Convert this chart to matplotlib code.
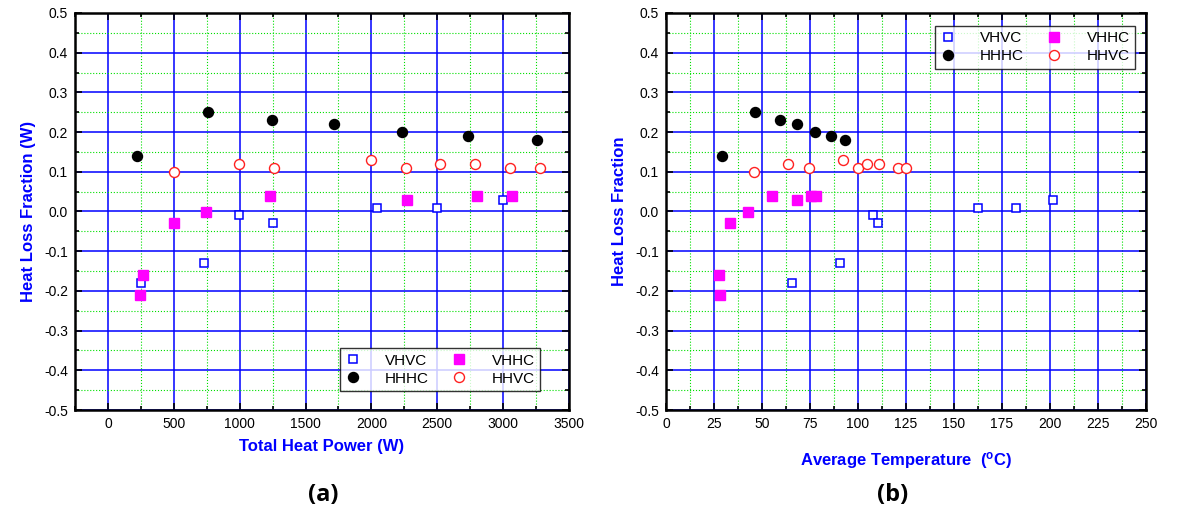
import numpy as np
import matplotlib
matplotlib.use('Agg')
import matplotlib.pyplot as plt
from matplotlib.ticker import MultipleLocator, FormatStrFormatter

plt.rcParams['font.family'] = ['Liberation Sans', 'DejaVu Sans']
plt.rcParams['axes.unicode_minus'] = False

# (a) heat loss fraction vs total heat power
vhvc_p = [249, 733, 997, 1253, 2039, 2501, 2998]
vhvc_fa = [-0.18, -0.13, -0.01, -0.03, 0.01, 0.01, 0.03]
vhhc_p = [243, 264, 500, 743, 1230, 2268, 2798, 3067]
vhhc_fa = [-0.21, -0.16, -0.03, 0.00, 0.04, 0.03, 0.04, 0.04]
hhhc_p = [223, 756, 1248, 1715, 2230, 2734, 3257]
hhhc_fa = [0.14, 0.25, 0.23, 0.22, 0.20, 0.19, 0.18]
hhvc_p = [502, 997, 1263, 1999, 2265, 2522, 2788, 3054, 3277]
hhvc_fa = [0.10, 0.12, 0.11, 0.13, 0.11, 0.12, 0.12, 0.11, 0.11]

# (b) heat loss fraction vs average temperature
vhvc_t = [65.6, 90.4, 107.6, 110.6, 162.3, 182.1, 201.4]
vhvc_fb = [-0.18, -0.13, -0.01, -0.03, 0.01, 0.01, 0.03]
vhhc_t = [27.4, 28.3, 33.3, 42.5, 55.2, 68.0, 75.5, 78.3]
vhhc_fb = [-0.16, -0.21, -0.03, 0.00, 0.04, 0.03, 0.04, 0.04]
hhhc_t = [29.2, 46.2, 59.2, 68.2, 77.8, 85.9, 93.4]
hhhc_fb = [0.14, 0.25, 0.23, 0.22, 0.20, 0.19, 0.18]
hhvc_t = [45.8, 63.7, 74.5, 92.3, 99.8, 104.8, 110.7, 120.6, 125.2]
hhvc_fb = [0.10, 0.12, 0.11, 0.13, 0.11, 0.12, 0.12, 0.11, 0.11]

fig = plt.figure(figsize=(11.86, 5.21), dpi=100)
axa = fig.add_axes([75/1186, 111/521, 494/1186, 397/521])
axb = fig.add_axes([666/1186, 111/521, 480/1186, 397/521])


def style_axes(ax, xlim, xmaj, xmin):
    ax.set_xlim(*xlim)
    ax.set_ylim(-0.5, 0.5)
    ax.xaxis.set_major_locator(MultipleLocator(xmaj))
    ax.xaxis.set_minor_locator(MultipleLocator(xmin))
    ax.yaxis.set_major_locator(MultipleLocator(0.1))
    ax.yaxis.set_minor_locator(MultipleLocator(0.05))
    ax.yaxis.set_major_formatter(FormatStrFormatter('%.1f'))
    ax.grid(which='major', color='#0000ff', lw=1.1, ls='-')
    ax.grid(which='minor', color='#00e000', lw=0.8, ls=':')
    ax.set_axisbelow(True)
    ax.tick_params(which='both', direction='in', top=True, right=True,
                   labelsize=10, width=1.2, pad=5)
    ax.tick_params(which='major', length=5)
    ax.tick_params(which='minor', length=3)
    for s in ax.spines.values():
        s.set_linewidth(1.8)


def draw_series(ax, sets):
    (x1, y1), (x2, y2), (x3, y3), (x4, y4) = sets
    h1, = ax.plot(x1, y1, 's', ms=6.3, mfc='white', mec='#0000ff', mew=1.1, label='VHVC')
    h2, = ax.plot(x2, y2, 's', ms=6.8, mfc='#ff00ff', mec='#ff00ff', label='VHHC')
    h3, = ax.plot(x3, y3, 'o', ms=7.2, mfc='black', mec='black', label='HHHC')
    h4, = ax.plot(x4, y4, 'o', ms=7.2, mfc='white', mec='#ff2020', mew=1.0, label='HHVC')
    return [h1, h3, h2, h4]


def add_legend(ax, handles, loc, anchor):
    leg = ax.legend(handles=handles, ncol=2, loc=loc, bbox_to_anchor=anchor,
                    fontsize=11, frameon=True, fancybox=False, edgecolor='black',
                    handlelength=1.0, columnspacing=1.5, handletextpad=1.6,
                    borderpad=0.35, labelspacing=0.25, borderaxespad=0)
    leg.get_frame().set_linewidth(1.0)
    return leg


style_axes(axa, (-250, 3500), 500, 250)
ha = draw_series(axa, [(vhvc_p, vhvc_fa), (vhhc_p, vhhc_fa),
                       (hhhc_p, hhhc_fa), (hhvc_p, hhvc_fa)])
axa.set_xticks(np.arange(0, 3501, 500))
axa.set_xlabel('Total Heat Power (W)', color='#0000ff', fontsize=12, fontweight='bold', labelpad=6)
axa.set_ylabel('Heat Loss Fraction (W)', color='#0000ff', fontsize=12, fontweight='bold', labelpad=6)
add_legend(axa, ha, 'lower right', (465/494, 19/397))

style_axes(axb, (0, 250), 25, 12.5)
hb = draw_series(axb, [(vhvc_t, vhvc_fb), (vhhc_t, vhhc_fb),
                       (hhhc_t, hhhc_fb), (hhvc_t, hhvc_fb)])
axb.set_xlabel('Average Temperature  ($\\mathregular{^{o}}$C)', color='#0000ff', fontsize=12,
               fontweight='bold', labelpad=14)
axb.set_ylabel('Heat Loss Fraction', color='#0000ff', fontsize=12, fontweight='bold', labelpad=6)
add_legend(axb, hb, 'upper right', (469/480, 384/397))

fig.text(323/1186, 1 - 495/521, '(a)', ha='center', va='center', fontsize=17,
         fontweight='bold', family=['Open Sans', 'DejaVu Sans'])
fig.text(893/1186, 1 - 495/521, '(b)', ha='center', va='center', fontsize=17,
         fontweight='bold', family=['Open Sans', 'DejaVu Sans'])

fig.savefig('out.png', dpi=100)
